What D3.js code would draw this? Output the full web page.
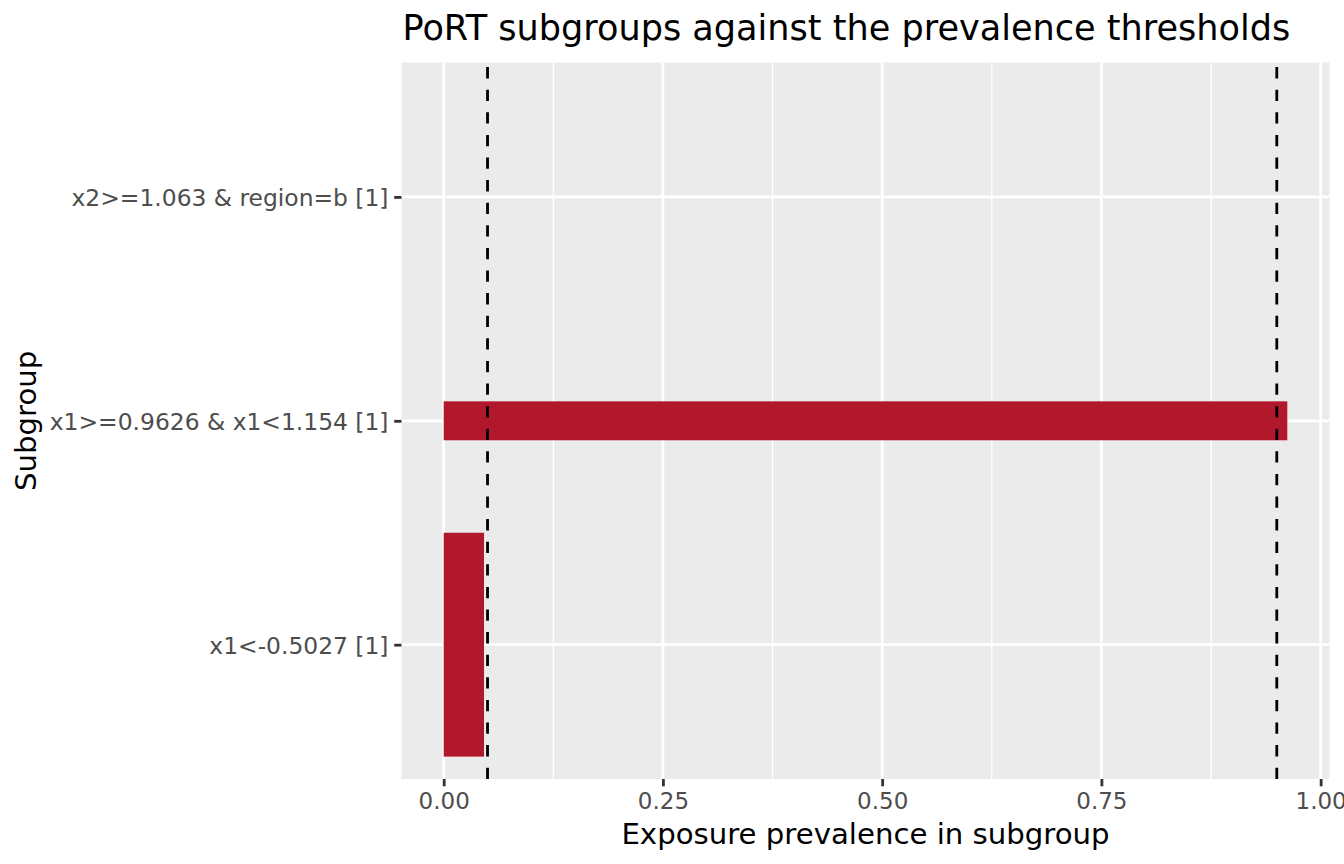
<!DOCTYPE html>
<html>
<head>
<meta charset="utf-8">
<script src="https://cdn.jsdelivr.net/npm/d3@7"></script>
<style>
  html, body { margin: 0; padding: 0; background: #fff; }
  svg { display: block; font-family: "DejaVu Sans", sans-serif; }
</style>
</head>
<body>
<svg id="chart" width="1344" height="864"></svg>
<script>
// ---- data ----
const categories = ["x2>=1.063 & region=b [1]", "x1>=0.9626 & x1<1.154 [1]", "x1<-0.5027 [1]"];
const prevalence = [0, 0.962, 0.046];
const barWidths = [0.17, 0.174, 1.0];   // relative bar thickness (fraction of category step)
const thresholds = [0.05, 0.95];
const xTicks = [0, 0.25, 0.5, 0.75, 1.0];
const xTickLabels = ["0.00", "0.25", "0.50", "0.75", "1.00"];
const xMinorTicks = [0.125, 0.375, 0.625, 0.875];
const title = "PoRT subgroups against the prevalence thresholds";
const xTitle = "Exposure prevalence in subgroup";
const yTitle = "Subgroup";

// ---- layout ----
const W = 1344, H = 864;
const panel = { left: 401.5, right: 1329.5, top: 62.6, bottom: 779 };
const svg = d3.select("#chart");

const xmax = d3.max(prevalence), xmin = 0;
const pad = (xmax - xmin) * 0.05;
const x = d3.scaleLinear().domain([xmin - pad, xmax + pad]).range([panel.left, panel.right]);
const y = d3.scalePoint().domain(categories).range([panel.top, panel.bottom]).padding(0.6);
const step = y.step();

// panel background
svg.append("rect")
  .attr("x", panel.left).attr("y", panel.top)
  .attr("width", panel.right - panel.left).attr("height", panel.bottom - panel.top)
  .attr("fill", "#EBEBEB");

const grid = svg.append("g");
// minor vertical grid
grid.selectAll(".minor").data(xMinorTicks).join("line")
  .attr("x1", d => x(d)).attr("x2", d => x(d))
  .attr("y1", panel.top).attr("y2", panel.bottom)
  .attr("stroke", "#fff").attr("stroke-width", 1.4);
// major vertical grid
grid.selectAll(".majorx").data(xTicks).join("line")
  .attr("x1", d => x(d)).attr("x2", d => x(d))
  .attr("y1", panel.top).attr("y2", panel.bottom)
  .attr("stroke", "#fff").attr("stroke-width", 2.8);
// major horizontal grid
grid.selectAll(".majory").data(categories).join("line")
  .attr("x1", panel.left).attr("x2", panel.right)
  .attr("y1", d => y(d)).attr("y2", d => y(d))
  .attr("stroke", "#fff").attr("stroke-width", 2.8);

// bars
const bars = categories.map((c, i) => ({ c, v: prevalence[i], w: barWidths[i] }));
svg.append("g").selectAll("rect").data(bars.filter(d => d.v > 0)).join("rect")
  .attr("x", x(0))
  .attr("width", d => x(d.v) - x(0))
  .attr("y", d => y(d.c) - d.w * step / 2)
  .attr("height", d => d.w * step)
  .attr("fill", "#B2182B");

// threshold lines (drawn bottom -> top so dash phase matches)
svg.append("g").selectAll("line").data(thresholds).join("line")
  .attr("x1", d => x(d)).attr("x2", d => x(d))
  .attr("y1", panel.bottom).attr("y2", panel.top)
  .attr("stroke", "#000").attr("stroke-width", 2.8)
  .attr("stroke-dasharray", "11.3,11.3");

// x axis
const xAxis = d3.axisBottom(x).tickValues(xTicks)
  .tickFormat((d, i) => xTickLabels[i]).tickSize(7.3).tickPadding(6);
const gx = svg.append("g").attr("transform", `translate(0,${panel.bottom})`).call(xAxis);
gx.select(".domain").remove();
gx.selectAll(".tick line").attr("stroke", "#333333").attr("stroke-width", 2.8);
gx.selectAll(".tick text").attr("fill", "#4D4D4D")
  .style("font-size", "23px").style("font-family", "DejaVu Sans")
  .attr("dy", null).attr("y", 30);

// y axis
const yAxis = d3.axisLeft(y).tickSize(7.3).tickPadding(6);
const gy = svg.append("g").attr("transform", `translate(${panel.left},0)`).call(yAxis);
gy.select(".domain").remove();
gy.selectAll(".tick line").attr("stroke", "#333333").attr("stroke-width", 2.8);
gy.selectAll(".tick text").attr("fill", "#4D4D4D")
  .style("font-size", "23.4px").style("font-family", "DejaVu Sans")
  .attr("x", -13).attr("dy", "0.36em");

// titles
svg.append("text")
  .attr("x", panel.left + 1).attr("y", 39.5)
  .style("font-size", "35.1px").attr("fill", "#000")
  .text(title);

svg.append("text")
  .attr("x", (panel.left + panel.right) / 2).attr("y", 843.5)
  .attr("text-anchor", "middle")
  .style("font-size", "29.2px").attr("fill", "#000")
  .text(xTitle);

svg.append("text")
  .attr("transform", `translate(36,${(panel.top + panel.bottom) / 2}) rotate(-90)`)
  .attr("text-anchor", "middle")
  .style("font-size", "29.2px").attr("fill", "#000")
  .text(yTitle);
</script>
</body>
</html>
